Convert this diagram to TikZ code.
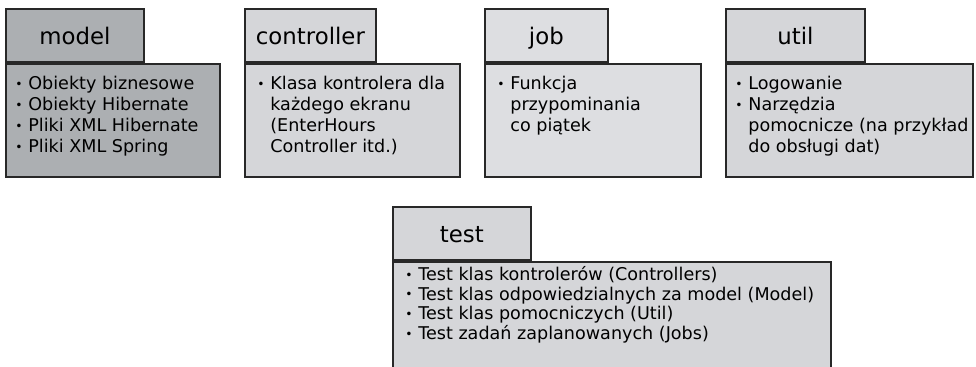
\documentclass[tikz,border=0pt]{standalone}
\usepackage{fontspec}
\setmainfont{DejaVu Sans}
\usetikzlibrary{positioning}

\definecolor{edgegray}{RGB}{40,40,40}
\definecolor{darkfill}{RGB}{172,175,178}
\definecolor{lightfill}{RGB}{213,214,217}
\definecolor{jobfill}{RGB}{221,222,225}

\newcommand{\bul}{\makebox[7.4pt][l]{\raisebox{0.6pt}{\scriptsize\textbullet}}}
\newcommand{\cnt}{\hspace*{7.4pt}}

\begin{document}
\begin{tikzpicture}[x=0.02cm, y=-0.02cm,
  pkgtab/.style={draw=edgegray, line width=1pt, anchor=north west, inner sep=0pt,
    minimum height=1.06cm, text height=10pt, text depth=0pt,
    font=\fontsize{13}{15}\selectfont},
  pkgbody/.style={draw=edgegray, line width=1pt, anchor=north west, inner sep=0pt},
  pkgtext/.style={anchor=north west, inner sep=0pt, align=left,
    font=\fontsize{10}{12}\selectfont}]

%─────────────
% Controls
%─────────────
\def\px{0.02cm}  % one pixel of the reference

\clip (0,0) rectangle (976,366);

%─────────────────────────────────────────────────────────────
% One package: tab with its title, body below it
% #1 name, #2 x, #3 y, #4 tab width, #5 body width, #6 body height,
% #7 fill, #8 title
%─────────────────────────────────────────────────────────────
\newcommand{\drawPackage}[8]{%
  \begin{scope}[shift={(#2,#3)}]
    \node[pkgtab, fill=#7, minimum width=#4*\px] (#1tab) at (0,0) {#8};
    \node[pkgbody, fill=#7, minimum width=#5*\px, minimum height=#6*\px]
      (#1body) at (#1tab.south west) {};
  \end{scope}
}

%─────────────
% Packages, top row
%─────────────
\drawPackage{model}{5}{8}{138}{214}{113}{darkfill}{model}
\drawPackage{controller}{244}{8}{131}{215}{113}{lightfill}{controller}
\drawPackage{job}{484}{8}{123}{216}{113}{jobfill}{job}
\drawPackage{util}{725}{8}{139}{247}{113}{lightfill}{util}

% bottom row
\drawPackage{test}{392}{206}{138}{438}{130}{lightfill}{test}

%─────────────
% Contents
%─────────────
\node[pkgtext] (modeltext) at ([shift={(10,13)}]modelbody.north west)
  {\bul Obiekty biznesowe\\ \bul Obiekty Hibernate\\
   \bul Pliki XML Hibernate\\ \bul Pliki XML Spring};
\node[pkgtext] (controllertext) at ([shift={(13,13)}]controllerbody.north west)
  {\bul Klasa kontrolera dla\\ \cnt każdego ekranu\\
   \cnt (EnterHours\\ \cnt Controller itd.)};
\node[pkgtext] (jobtext) at ([shift={(13,13)}]jobbody.north west)
  {\bul Funkcja\\ \cnt przypominania\\ \cnt co piątek};
\node[pkgtext] (utiltext) at ([shift={(10,13)}]utilbody.north west)
  {\bul Logowanie\\ \bul Narzędzia\\
   \cnt pomocnicze (na przykład\\ \cnt do obsługi dat)};
\node[pkgtext, font=\fontsize{10}{11.3}\selectfont] (testtext)
  at ([shift={(13,5)}]testbody.north west)
  {\bul Test klas kontrolerów (Controllers)\\
   \bul Test klas odpowiedzialnych za model (Model)\\
   \bul Test klas pomocniczych (Util)\\
   \bul Test zadań zaplanowanych (Jobs)};

\end{tikzpicture}
\end{document}
